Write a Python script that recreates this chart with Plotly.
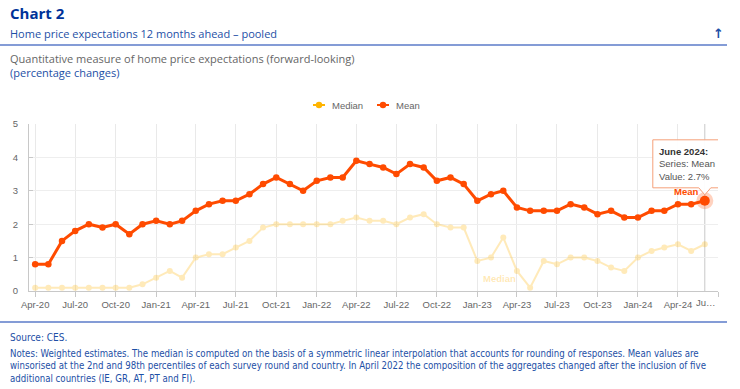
import plotly.graph_objects as go
import pandas as pd

# ---------------- data ----------------
months = list(pd.date_range("2020-04-01", "2024-06-01", freq="MS").strftime("%Y-%m-%d"))
mean_values = [0.8, 0.8, 1.5, 1.8, 2.0, 1.9, 2.0, 1.7, 2.0,
               2.1, 2.0, 2.1, 2.4, 2.6, 2.7, 2.7, 2.9, 3.2, 3.4, 3.2, 3.0,
               3.3, 3.4, 3.4, 3.9, 3.8, 3.7, 3.5, 3.8, 3.7, 3.3, 3.4, 3.2,
               2.7, 2.9, 3.0, 2.5, 2.4, 2.4, 2.4, 2.6, 2.5, 2.3, 2.4, 2.2,
               2.2, 2.4, 2.4, 2.6, 2.6, 2.7]
median_values = [0.1, 0.1, 0.1, 0.1, 0.1, 0.1, 0.1, 0.1, 0.2,
                 0.4, 0.6, 0.4, 1.0, 1.1, 1.1, 1.3, 1.5, 1.9, 2.0, 2.0, 2.0,
                 2.0, 2.0, 2.1, 2.2, 2.1, 2.1, 2.0, 2.2, 2.3, 2.0, 1.9, 1.9,
                 0.9, 1.0, 1.6, 0.6, 0.1, 0.9, 0.8, 1.0, 1.0, 0.9, 0.7, 0.6,
                 1.0, 1.2, 1.3, 1.4, 1.2, 1.4]
tick_dates = list(pd.date_range("2020-04-01", "2024-07-01", freq="3MS").strftime("%Y-%m-%d"))
tick_labels = list(pd.to_datetime(tick_dates[:-1]).strftime("%b-%y")) + [""]
y_ticks = [0, 1, 2, 3, 4, 5]

MEAN_C = "#ff4b00"
MED_C = "#ffb400"
BLUE = "#1d4fa6"
CHART_FONT = "Liberation Sans, Arial, sans-serif"
HEAD_FONT = "Open Sans, Noto Sans, sans-serif"
NOTE_FONT = "Liberation Sans Narrow, Arial Narrow, DejaVu Sans Condensed, Liberation Sans, sans-serif"

# ---------------- geometry (pixels) ----------------
W, H = 740, 389
L, R, T, B = 29, 718, 124, 291


def fx(p):
    return (p - L) / (R - L)


def fy(p):
    return (B - p) / (B - T)


fig = go.Figure()

fig.add_trace(go.Scatter(
    x=months, y=median_values, name="Median", mode="lines+markers",
    line=dict(color=MED_C, width=2), marker=dict(color=MED_C, size=6),
    opacity=0.27, hoverinfo="skip"))
fig.add_trace(go.Scatter(
    x=months, y=mean_values, name="Mean", mode="lines+markers",
    line=dict(color=MEAN_C, width=3), marker=dict(color=MEAN_C, size=6.5),
    hoverinfo="skip"))
# hovered point
fig.add_trace(go.Scatter(
    x=months[-1:], y=mean_values[-1:], mode="markers",
    marker=dict(color="rgba(255,75,0,0.25)", size=17), hoverinfo="skip"))
fig.add_trace(go.Scatter(
    x=months[-1:], y=mean_values[-1:], mode="markers",
    marker=dict(color=MEAN_C, size=10), hoverinfo="skip"))

shapes = []
annotations = []

# crosshair
shapes.append(dict(type="line", xref="x", yref="paper", x0=months[-1], x1=months[-1],
                   y0=0, y1=1, line=dict(color="#c8c8c8", width=1), layer="below"))
# tooltip callout
shapes.append(dict(type="path", xref="x", yref="y", xsizemode="pixel", ysizemode="pixel",
                   xanchor=months[-1], yanchor=mean_values[-1],
                   path="M -52,61 L 21,61 L 21,13 L 6,13 L 0,6 L -6,13 L -52,13 Z",
                   fillcolor="rgba(255,255,255,0.95)", line=dict(color="#f5a07a", width=1),
                   layer="above"))
annotations.append(dict(
    xref="x", yref="y", x=months[-1], y=mean_values[-1], xanchor="left", yanchor="middle",
    xshift=-48, yshift=36.5, showarrow=False, align="left",
    text="<b>June 2024:</b><br><span style='color:#555'>Series: Mean</span><br>"
         "<span style='color:#555'>Value: %s%%</span>" % mean_values[-1],
    font=dict(family=CHART_FONT, size=9.5, color="#333")))
# series labels
annotations.append(dict(xref="x", yref="y", x=months[-1], y=mean_values[-1], xanchor="right",
                        yanchor="middle", xshift=-5, yshift=9, showarrow=False,
                        text="<b>Mean</b>", font=dict(family=CHART_FONT, size=9.5, color=MEAN_C)))
annotations.append(dict(xref="x", yref="y", x="2023-02-20", y=0.36, xanchor="center",
                        yanchor="middle", showarrow=False, text="<b>Median</b>",
                        font=dict(family=CHART_FONT, size=9.5, color="rgba(255,180,0,0.3)")))
# truncated last tick label
annotations.append(dict(xref="x", yref="paper", x=tick_dates[-1], y=fy(302), xanchor="right",
                        yanchor="middle", showarrow=False, text="Ju…",
                        font=dict(family=CHART_FONT, size=9.5, color="#666")))

# custom legend
for name, col, x_line0, x_text in [("Median", MED_C, 313, 329.5), ("Mean", MEAN_C, 377, 394)]:
    shapes.append(dict(type="line", xref="paper", yref="paper", x0=fx(x_line0), x1=fx(x_line0 + 12),
                       y0=fy(105), y1=fy(105), line=dict(color=col, width=2)))
    shapes.append(dict(type="circle", xref="paper", yref="paper", xsizemode="pixel", ysizemode="pixel",
                       xanchor=fx(x_line0 + 6), yanchor=fy(105), x0=-3.2, x1=3.2, y0=-3.2, y1=3.2,
                       fillcolor=col, line=dict(width=0)))
    annotations.append(dict(xref="paper", yref="paper", x=fx(x_text), y=fy(105), xanchor="left",
                            yanchor="middle", showarrow=False, text=name,
                            font=dict(family=CHART_FONT, size=9.5, color="#666")))

# header
annotations.append(dict(xref="paper", yref="paper", x=fx(8), y=fy(13), xanchor="left", yanchor="middle",
                        showarrow=False, text="<b>Chart 2</b>",
                        font=dict(family=HEAD_FONT, size=15, color="#003299")))
annotations.append(dict(xref="paper", yref="paper", x=fx(8), y=fy(33), xanchor="left", yanchor="middle",
                        showarrow=False, text="Home price expectations 12 months ahead – pooled",
                        font=dict(family=HEAD_FONT, size=11, color=BLUE)))
annotations.append(dict(xref="paper", yref="paper", x=fx(718), y=fy(33), xanchor="center", yanchor="middle",
                        showarrow=False, text="<b>↑</b>",
                        font=dict(family="DejaVu Sans, sans-serif", size=13, color=BLUE)))
shapes.append(dict(type="line", xref="paper", yref="paper", x0=fx(0), x1=fx(727), y0=fy(45), y1=fy(45),
                   line=dict(color="#5b7bc9", width=1.5)))
annotations.append(dict(xref="paper", yref="paper", x=fx(8), y=fy(58), xanchor="left", yanchor="middle",
                        showarrow=False,
                        text="Quantitative measure of home price expectations (forward-looking)",
                        font=dict(family=HEAD_FONT, size=11, color="#666")))
annotations.append(dict(xref="paper", yref="paper", x=fx(8), y=fy(73), xanchor="left", yanchor="middle",
                        showarrow=False, text="(percentage changes)",
                        font=dict(family=HEAD_FONT, size=11, color=BLUE)))

# footer
shapes.append(dict(type="line", xref="paper", yref="paper", x0=fx(0), x1=fx(727), y0=fy(322), y1=fy(322),
                   line=dict(color="#5b7bc9", width=1.5)))
annotations.append(dict(xref="paper", yref="paper", x=fx(8), y=fy(337), xanchor="left", yanchor="middle",
                        showarrow=False, text="Source: CES.",
                        font=dict(family=NOTE_FONT, size=10, color=BLUE)))
notes = ("Notes: Weighted estimates. The median is computed on the basis of a symmetric linear interpolation "
         "that accounts for rounding of responses. Mean values are<br>winsorised at the 2nd and 98th percentiles "
         "of each survey round and country. In April 2022 the composition of the aggregates changed after the "
         "inclusion of five<br>additional countries (IE, GR, AT, PT and FI).")
annotations.append(dict(xref="paper", yref="paper", x=fx(8), y=fy(346), xanchor="left", yanchor="top",
                        showarrow=False, align="left", text=notes,
                        font=dict(family=NOTE_FONT, size=9.6, color=BLUE)))

fig.update_layout(
    width=W, height=H, margin=dict(l=L, r=W - R, t=T, b=H - B, pad=0),
    paper_bgcolor="white", plot_bgcolor="white", showlegend=False,
    xaxis=dict(type="date", range=["2020-03-18", "2024-07-01"], tickvals=tick_dates, ticktext=tick_labels,
               showgrid=True, gridcolor="#e9e9e9", gridwidth=1, zeroline=False,
               showline=True, linecolor="#c8c8c8", linewidth=1,
               ticks="outside", ticklen=5, tickcolor="#c8c8c8",
               tickfont=dict(family=CHART_FONT, size=9.5, color="#666")),
    yaxis=dict(range=[0, 5], tickvals=y_ticks, showgrid=True, gridcolor="#eeeeee", zeroline=False,
               showline=True, linecolor="#c8c8c8", linewidth=1,
               ticks="inside", ticklen=4, tickcolor="#c8c8c8",
               tickfont=dict(family=CHART_FONT, size=9.5, color="#666"), ticklabelstandoff=8),
    shapes=shapes, annotations=annotations,
)

fig.write_html("out.html", config={"displayModeBar": False},
               post_script="document.body.style.margin='0';")
